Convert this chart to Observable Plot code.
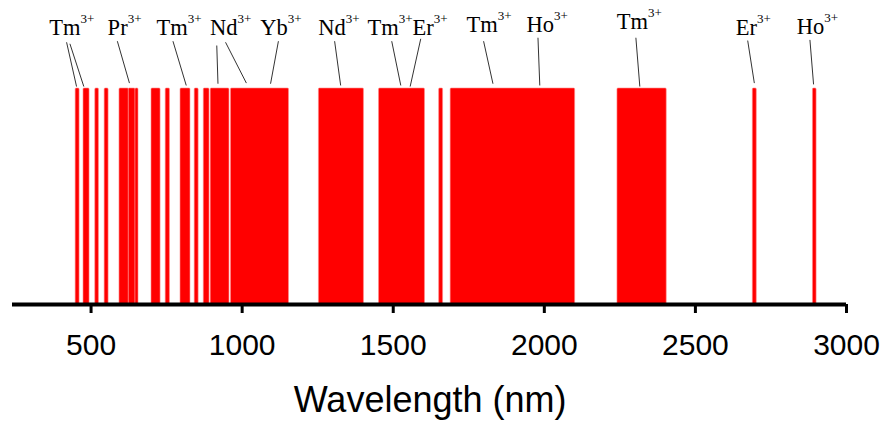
<!DOCTYPE html>
<html>
<head>
<meta charset="utf-8">
<script src="https://cdn.jsdelivr.net/npm/d3@7"></script>
<script src="https://cdn.jsdelivr.net/npm/@observablehq/plot@0.6"></script>
<style>
  html, body { margin: 0; padding: 0; background: #fff; }
  svg { display: block; overflow: visible; }
</style>
</head>
<body>
<div id="chart"></div>
<script>
// Emission bands (nm)
const bandStart = [449, 475, 514, 545, 594, 625, 647, 700, 747, 796, 843, 873, 896, 963, 1254, 1453, 1652, 1690, 2242, 2690, 2889];
const bandEnd   = [462, 495, 526, 558, 625, 647, 657, 730, 761, 829, 856, 892, 958, 1155, 1403, 1605, 1665, 2102, 2405, 2703, 2901];

// Ion labels
const labelIon = ["Tm", "Pr", "Tm", "Nd", "Yb", "Nd", "Tm", "Er", "Tm", "Ho", "Tm", "Er", "Ho"];
const labelCharge = ["3+", "3+", "3+", "3+", "3+", "3+", "3+", "3+", "3+", "3+", "3+", "3+", "3+"];
const labelX = [465, 621, 820, 985, 1151, 1343, 1518, 1634, 1846, 2032, 2343, 2704, 2926];
const labelY = [1.247, 1.247, 1.247, 1.249, 1.249, 1.249, 1.249, 1.249, 1.261, 1.261, 1.276, 1.250, 1.253];

// Leader lines
const leaderX1 = [419, 430, 587, 771, 916, 945, 1120, 1306, 1495, 1591, 1799, 1979, 2303, 2673, 2879];
const leaderY1 = [1.214, 1.207, 1.219, 1.219, 1.199, 1.214, 1.219, 1.219, 1.219, 1.230, 1.219, 1.235, 1.235, 1.222, 1.225];
const leaderX2 = [452, 476, 627, 815, 920, 1014, 1094, 1326, 1525, 1556, 1830, 1985, 2316, 2695, 2891];
const leaderY2 = [1.009, 1.009, 1.025, 1.014, 1.022, 1.025, 1.022, 1.014, 1.014, 1.009, 1.022, 1.014, 1.009, 1.025, 1.019];

const tickValues = [500, 1000, 1500, 2000, 2500, 3000];
const xTitle = "Wavelength (nm)";

const bands = bandStart.map((s, i) => ({x1: s, x2: bandEnd[i]}));
const labels = labelIon.map((ion, i) => ({ion, charge: labelCharge[i], x: labelX[i], y: labelY[i]}));
const leaders = leaderX1.map((x1, i) => ({x1, y1: leaderY1[i], x2: leaderX2[i], y2: leaderY2[i]}));

const serif = "'Liberation Serif', 'Times New Roman', serif";
const sans = "'Liberation Sans', Arial, sans-serif";

const chart = Plot.plot({
  width: 884,
  height: 421,
  marginLeft: 12,
  marginRight: 38,
  marginTop: 2,
  marginBottom: 117,
  x: {domain: [240, 3000], axis: null},
  y: {domain: [0, 1.4], range: [304, 1.6], axis: null},
  marks: [
    Plot.rectY(bands, {x1: "x1", x2: "x2", y1: 0, y2: 1, fill: "#ff0000", stroke: "#ff8c8c", strokeWidth: 0.6, rx: 1}),
    Plot.ruleY([0], {x1: 240, x2: 3000, stroke: "#000", strokeWidth: 4}),
    Plot.axisX({
      ticks: tickValues,
      tickFormat: d => String(d),
      tickSize: 9,
      tickPadding: 20,
      strokeWidth: 3,
      fontSize: 30,
      fontFamily: sans,
      fill: "#000",
      label: null
    }),
    Plot.link(leaders, {x1: "x1", y1: "y1", x2: "x2", y2: "y2", stroke: "#333", strokeWidth: 1}),
    Plot.text(labels, {x: "x", y: "y", text: "ion", textAnchor: "end", lineAnchor: "bottom", fontSize: 22.5, fontFamily: serif, fill: "#000"}),
    Plot.text(labels, {x: "x", y: "y", text: "charge", textAnchor: "start", lineAnchor: "bottom", dy: -12, fontSize: 13, fontFamily: serif, fill: "#000"}),
    Plot.text([xTitle], {x: 1622, y: -0.4986, text: d => d, textAnchor: "middle", lineAnchor: "bottom", fontSize: 36, fontFamily: sans, fill: "#000"})
  ]
});
document.getElementById("chart").appendChild(chart);
</script>
</body>
</html>
